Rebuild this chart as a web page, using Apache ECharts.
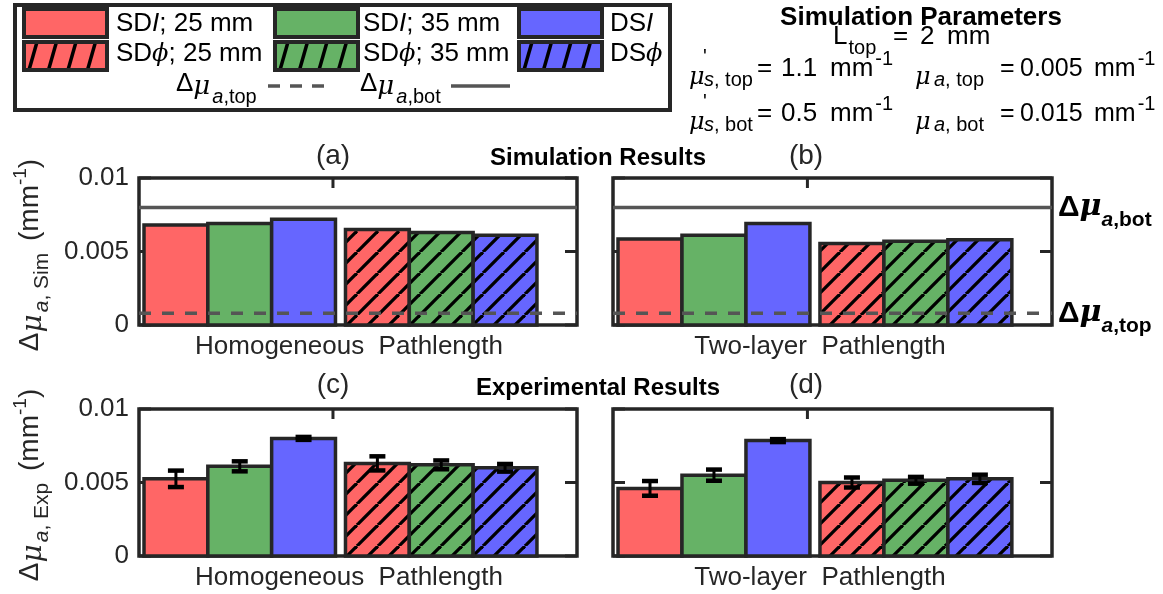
<!DOCTYPE html>
<html>
<head>
<meta charset="utf-8">
<script src="https://cdn.jsdelivr.net/npm/echarts@6/dist/echarts.min.js"></script>
<style>
  html, body { margin: 0; padding: 0; background: #fff; }
  #chart { width: 1163px; height: 594px; }
</style>
</head>
<body>
<div id="chart"></div>
<script>
// Bar order in every panel: SD I 25 mm, SD I 35 mm, DS I, SD phi 25 mm, SD phi 35 mm, DS phi
const methods = ['SDI; 25 mm', 'SDI; 35 mm', 'DSI', 'SDϕ; 25 mm', 'SDϕ; 35 mm', 'DSϕ'];

// Simulated absorption change (mm^-1)
const simHomogeneous = [0.0068, 0.0069, 0.0072, 0.0065, 0.0063, 0.0061];
const simTwoLayer    = [0.00585, 0.0061, 0.0069, 0.00555, 0.0057, 0.0058];

// Measured absorption change (mm^-1) and its uncertainty
const expHomogeneous    = [0.00525, 0.0061, 0.0080, 0.0063, 0.0062, 0.0060];
const expHomogeneousErr = [0.00056, 0.00034, 0.0001, 0.00048, 0.0003, 0.00026];
const expTwoLayer       = [0.0046, 0.0055, 0.00785, 0.0050, 0.00515, 0.00525];
const expTwoLayerErr    = [0.0005, 0.00038, 0.0001, 0.00034, 0.00023, 0.00028];

// True absorption changes of the top and bottom layer
const deltaMuTop = 0.0008;
const deltaMuBot = 0.008;

// y ticks shared by all panels
const yTicks = [0, 0.005, 0.01];

const EDGE = '#262626';
const REF = '#555555';
const FONT = "'Liberation Sans', Arial, Helvetica, sans-serif";
const SERIF = "'DejaVu Serif', 'Liberation Serif', serif";
const COLORS = ['#ff6666', '#66b266', '#6666ff'];

// x layout in bar-width units
const X_MIN = 0, X_MAX = 7, X_TICK = 3.1, BAR_W = 1.02, GROUP_START = [0.08, 3.3];

const PANELS = [
  { left: 139, top: 178, width: 438, height: 147 },
  { left: 613, top: 178, width: 439, height: 147 },
  { left: 139, top: 409, width: 438, height: 147 },
  { left: 613, top: 409, width: 439, height: 147 }
];

function hatch(color) {
  const T = 21;
  const c = document.createElement('canvas');
  c.width = T; c.height = T;
  const g = c.getContext('2d');
  g.fillStyle = color;
  g.fillRect(0, 0, T, T);
  g.strokeStyle = '#000';
  g.lineWidth = 3.3;
  for (const o of [-T, 0, T]) {
    g.beginPath(); g.moveTo(o, T); g.lineTo(o + T, 0); g.stroke();
  }
  return { image: c, repeat: 'repeat' };
}
const HATCH = COLORS.map(hatch);

function barX(k) {
  const g = Math.floor(k / 3), j = k % 3;
  return GROUP_START[g] + j * BAR_W;
}

function barSeries(gi, values) {
  return {
    type: 'custom', xAxisIndex: 2 * gi, yAxisIndex: 2 * gi, z: 3, silent: true,
    data: values.map((v, k) => [k, v]),
    renderItem: (params, api) => {
      const k = api.value(0), v = api.value(1);
      const j = k % 3, hatched = k >= 3;
      const x0 = barX(k);
      const a = api.coord([x0, v]), b = api.coord([x0 + BAR_W, 0]);
      return {
        type: 'rect',
        shape: { x: a[0], y: a[1], width: b[0] - a[0], height: b[1] - a[1] },
        style: { fill: hatched ? HATCH[j] : COLORS[j], stroke: EDGE, lineWidth: 3.5 }
      };
    }
  };
}

function errSeries(gi, values, errs) {
  return {
    type: 'custom', xAxisIndex: 2 * gi, yAxisIndex: 2 * gi, z: 5, silent: true,
    data: values.map((v, k) => [k, v, errs[k]]),
    renderItem: (params, api) => {
      const k = api.value(0), v = api.value(1), e = api.value(2);
      const xc = barX(k) + BAR_W / 2;
      const hi = api.coord([xc, v + e]), lo = api.coord([xc, v - e]);
      const cw = 8;
      return {
        type: 'group',
        children: [
          { type: 'line', shape: { x1: hi[0], y1: hi[1], x2: lo[0], y2: lo[1] }, style: { stroke: '#000', lineWidth: 3 } },
          { type: 'line', shape: { x1: hi[0] - cw, y1: hi[1], x2: hi[0] + cw, y2: hi[1] }, style: { stroke: '#000', lineWidth: 4.5 } },
          { type: 'line', shape: { x1: lo[0] - cw, y1: lo[1], x2: lo[0] + cw, y2: lo[1] }, style: { stroke: '#000', lineWidth: 4.5 } }
        ]
      };
    }
  };
}

// inward tick marks on all four sides of a panel
function tickSeries(gi) {
  const yMin = yTicks[0], yMax = yTicks[yTicks.length - 1];
  return {
    type: 'custom', xAxisIndex: 2 * gi, yAxisIndex: 2 * gi, z: 2, silent: true,
    data: yTicks.map(v => [0, v]).concat([[1, X_TICK]]),
    renderItem: (params, api) => {
      const kind = api.value(0), v = api.value(1);
      const st = { stroke: EDGE, lineWidth: 3 };
      if (kind === 0) {
        const l = api.coord([X_MIN, v]), r = api.coord([X_MAX, v]);
        return { type: 'group', children: [
          { type: 'line', shape: { x1: l[0], y1: l[1], x2: l[0] + 12, y2: l[1] }, style: st },
          { type: 'line', shape: { x1: r[0] - 12, y1: r[1], x2: r[0], y2: r[1] }, style: st }
        ] };
      }
      const t = api.coord([v, yMax]), b = api.coord([v, yMin]);
      return { type: 'group', children: [
        { type: 'line', shape: { x1: t[0], y1: t[1], x2: t[0], y2: t[1] + 10 }, style: st },
        { type: 'line', shape: { x1: b[0], y1: b[1] - 10, x2: b[0], y2: b[1] }, style: st }
      ] };
    }
  };
}

const deltaRich = (size, sub) => ({
  D: { fontFamily: FONT, fontSize: size, fontWeight: 'bold', color: '#000', lineHeight: size + 16, verticalAlign: 'middle' },
  m: { fontFamily: SERIF, fontSize: size, fontStyle: 'italic', fontWeight: 'bold', color: '#000', lineHeight: size + 16, verticalAlign: 'middle' },
  sa: { fontFamily: FONT, fontSize: sub, fontStyle: 'italic', fontWeight: 'bold', color: '#000', lineHeight: sub, verticalAlign: 'bottom' },
  s: { fontFamily: FONT, fontSize: sub, fontWeight: 'bold', color: '#000', lineHeight: sub, verticalAlign: 'bottom' }
});

function refLine(gi, v, dashed, labelText) {
  return {
    type: 'line', xAxisIndex: 2 * gi, yAxisIndex: 2 * gi, z: 6, silent: true,
    symbol: 'none', showSymbol: false,
    data: [[X_MIN, v], [X_MAX, v]],
    lineStyle: { color: REF, width: 3.5, type: dashed ? [12, 11] : 'solid' },
    endLabel: labelText ? {
      show: true, distance: 6, formatter: labelText, rich: deltaRich(30, 21)
    } : { show: false }
  };
}

function axesFor(gi, showLabels) {
  const xBase = {
    type: 'value', gridIndex: gi, min: X_MIN, max: X_MAX,
    axisLine: { show: false }, splitLine: { show: false }, axisLabel: { show: false }, axisTick: { show: false }
  };
  const yBase = {
    type: 'value', gridIndex: gi, min: yTicks[0], max: yTicks[yTicks.length - 1], interval: yTicks[1] - yTicks[0],
    axisLine: { show: false }, splitLine: { show: false }, axisTick: { show: false }
  };
  return {
    x: [Object.assign({}, xBase, { position: 'bottom' }), Object.assign({}, xBase, { position: 'top' })],
    y: [
      Object.assign({}, yBase, {
        position: 'left',
        axisLabel: {
          show: showLabels, margin: 10, color: EDGE, fontFamily: FONT, fontSize: 26,
          formatter: v => String(yTicks.find(t => Math.abs(t - v) < 1e-9) ?? v)
        }
      }),
      Object.assign({}, yBase, { position: 'right', axisLabel: { show: false } })
    ]
  };
}

const axes = [axesFor(0, true), axesFor(1, false), axesFor(2, true), axesFor(3, false)];

// ---------- text layout: pieces share one baseline, sub/superscripts use dy ----------
const measureCtx = document.createElement('canvas').getContext('2d');
function runText(x, baseline, pieces, align, extra) {
  const z = (extra && extra.z) || 5;
  let cx = 0;
  const kids = [];
  for (const p of pieces) {
    if (p.at != null) cx = p.at; else cx += p.pre || 0;
    const fam = p.fam || FONT;
    const style = p.it ? 'italic' : 'normal';
    const weight = p.bold ? 'bold' : 'normal';
    measureCtx.font = `${style} ${weight} ${p.size}px ${fam}`;
    kids.push({
      type: 'text', silent: true, z, x: cx, y: (p.dy || 0) - 0.347 * p.size,
      style: { text: p.t, fontFamily: fam, fontSize: p.size, fontStyle: style, fontWeight: weight,
        fill: p.fill || '#000', textAlign: 'left', textVerticalAlign: 'middle' }
    });
    cx += measureCtx.measureText(p.t).width;
  }
  if (align === 'center') kids.forEach(k => { k.x -= cx / 2; });
  return Object.assign({ type: 'group', x, y: baseline, silent: true, children: kids }, extra || {});
}

const graphics = [];

// legend box
const LG = { x: 15, y: 5, w: 655, h: 105 };
graphics.push({ type: 'rect', silent: true, shape: { x: LG.x, y: LG.y, width: LG.w, height: LG.h },
  style: { fill: '#fff', stroke: EDGE, lineWidth: 4 }, z: 1 });
const swX = [24, 275, 519], swW = 83, swH = 28, rowY = [9, 42];
const labX = [116, 363, 610], rowBase = [33, 63];
for (let j = 0; j < 3; j++) {
  graphics.push({ type: 'rect', silent: true, z: 2, shape: { x: swX[j], y: rowY[0], width: swW, height: swH },
    style: { fill: COLORS[j], stroke: EDGE, lineWidth: 4 } });
  graphics.push({ type: 'rect', silent: true, z: 2, shape: { x: swX[j], y: rowY[1], width: swW, height: swH },
    style: { fill: COLORS[j], stroke: null } });
  for (let h = 0; h < 4; h++) {
    const bx = swX[j] + 5 + h * 19.5;
    graphics.push({ type: 'line', silent: true, z: 3, shape: { x1: bx, y1: rowY[1] + swH, x2: bx + 8, y2: rowY[1] },
      style: { stroke: '#000', lineWidth: 3.5 } });
  }
  graphics.push({ type: 'rect', silent: true, z: 4, shape: { x: swX[j], y: rowY[1], width: swW, height: swH },
    style: { fill: null, stroke: EDGE, lineWidth: 4 } });
}
const phi = { t: 'ϕ', size: 24, it: true, fam: SERIF };
const legendPieces = [
  [{ t: 'SD', size: 26 }, { t: 'I', size: 26, it: true }, { t: '; 25 mm', size: 26 }],
  [{ t: 'SD', size: 26 }, { t: 'I', size: 26, it: true }, { t: '; 35 mm', size: 26 }],
  [{ t: 'DS', size: 26 }, { t: 'I', size: 26, it: true }],
  [{ t: 'SD', size: 26 }, phi, { t: '; 25 mm', size: 26 }],
  [{ t: 'SD', size: 26 }, phi, { t: '; 35 mm', size: 26 }],
  [{ t: 'DS', size: 26 }, phi]
];
legendPieces.forEach((pcs, k) => {
  graphics.push(runText(labX[k % 3], rowBase[Math.floor(k / 3)], pcs, 'left', { z: 6 }));
});
const legendDelta = (sub) => [
  { t: 'Δ', size: 26 }, { t: 'μ', size: 26, it: true, fam: SERIF, dy: 3 },
  { t: 'a', size: 20, it: true, dy: 11, pre: 2 }, { t: sub, size: 20, dy: 11 }
];
graphics.push(runText(176, 93, legendDelta(',top'), 'left', { z: 6 }));
graphics.push({ type: 'line', silent: true, z: 6, shape: { x1: 268, y1: 86, x2: 325, y2: 86 },
  style: { stroke: REF, lineWidth: 3.5, lineDash: [12, 10] } });
graphics.push(runText(360, 93, legendDelta(',bot'), 'left', { z: 6 }));
graphics.push({ type: 'line', silent: true, z: 6, shape: { x1: 451, y1: 86, x2: 510, y2: 86 },
  style: { stroke: REF, lineWidth: 3.5 } });

// simulation parameters
graphics.push(runText(921, 27, [{ t: 'Simulation Parameters', size: 26, bold: true }], 'center'));
graphics.push(runText(0, 46, [
  { t: 'L', size: 26, at: 833 }, { t: 'top', size: 20, dy: 9, pre: 1 },
  { t: '=', size: 26, at: 893 }, { t: '2', size: 26, at: 920 }, { t: 'mm', size: 26, at: 947 }
], 'left'));
const paramRow = (base, layer, musVal, muaVal) => runText(0, base, [
  { t: 'μ', size: 24, it: true, fam: SERIF, dy: 8, at: 689 },
  { t: "'", size: 20, dy: -14, at: 703 },
  { t: 's', size: 20, it: true, dy: 9, at: 704 }, { t: ', ' + layer, size: 20, dy: 9 },
  { t: '=', size: 26, at: 757 }, { t: musVal, size: 26, at: 781 },
  { t: 'mm', size: 26, at: 830 },
  { t: '-1', size: 20, dy: -12, pre: 2 },
  { t: 'μ', size: 24, it: true, fam: SERIF, dy: 8, at: 915 },
  { t: 'a', size: 20, it: true, dy: 9, at: 934 }, { t: ', ' + layer, size: 20, dy: 9 },
  { t: '=', size: 25, at: 1000 }, { t: muaVal, size: 25, at: 1020 },
  { t: 'mm', size: 25, at: 1094 },
  { t: '-1', size: 20, dy: -12, pre: 2 }
], 'left');
graphics.push(paramRow(78, 'top', '1.1', '0.005'));
graphics.push(paramRow(123, 'bot', '0.5', '0.015'));

// panel letters and section headings
const panelLetter = (x, y, s) => runText(x, y, [{ t: s, size: 28, fill: EDGE }], 'center');
graphics.push(panelLetter(333, 166, '(a)'));
graphics.push(panelLetter(806, 166, '(b)'));
graphics.push(panelLetter(333, 395, '(c)'));
graphics.push(panelLetter(806, 395, '(d)'));
graphics.push(runText(598, 167, [{ t: 'Simulation Results', size: 24, bold: true }], 'center'));
graphics.push(runText(598, 397, [{ t: 'Experimental Results', size: 24, bold: true }], 'center'));

// x axis titles
const xTitle = (x, y, s) => runText(x, y, [{ t: s, size: 26, fill: EDGE }], 'center');
graphics.push(xTitle(349, 356, 'Homogeneous  Pathlength'));
graphics.push(xTitle(820, 356, 'Two-layer  Pathlength'));
graphics.push(xTitle(349, 587, 'Homogeneous  Pathlength'));
graphics.push(xTitle(820, 587, 'Two-layer  Pathlength'));

// y axis titles (rotated, reading upwards)
const yTitle = (cy, tag) => runText(40, cy, [
  { t: 'Δ', size: 28, fill: EDGE }, { t: 'μ', size: 28, it: true, fam: SERIF, dy: 3, fill: EDGE },
  { t: 'a', size: 21, it: true, dy: 9, pre: 2, fill: EDGE }, { t: ', ' + tag, size: 21, dy: 9, fill: EDGE },
  { t: ' (mm', size: 28, pre: 4, fill: EDGE }, { t: '-1', size: 19, dy: -13, fill: EDGE }, { t: ')', size: 28, fill: EDGE }
], 'center', { rotation: Math.PI / 2 });
graphics.push(yTitle(255, 'Sim'));
graphics.push(yTitle(485, 'Exp'));

const option = {
  animation: false,
  backgroundColor: '#fff',
  grid: PANELS.map(p => Object.assign({ show: true, borderColor: EDGE, borderWidth: 3.5, backgroundColor: 'transparent', outerBoundsMode: 'none' }, p)),
  xAxis: axes.flatMap(a => a.x),
  yAxis: axes.flatMap(a => a.y),
  graphic: graphics,
  series: [
    tickSeries(0), tickSeries(1), tickSeries(2), tickSeries(3),
    barSeries(0, simHomogeneous),
    barSeries(1, simTwoLayer),
    barSeries(2, expHomogeneous),
    barSeries(3, expTwoLayer),
    errSeries(2, expHomogeneous, expHomogeneousErr),
    errSeries(3, expTwoLayer, expTwoLayerErr),
    refLine(0, deltaMuBot, false, null),
    refLine(0, deltaMuTop, true, null),
    refLine(1, deltaMuBot, false, '{D|Δ}{m|μ}{sa|a}{s|,bot}'),
    refLine(1, deltaMuTop, true, '{D|Δ}{m|μ}{sa|a}{s|,top}')
  ]
};

const chart = echarts.init(document.getElementById('chart'), null, { renderer: 'canvas' });
chart.setOption(option);
</script>
</body>
</html>
